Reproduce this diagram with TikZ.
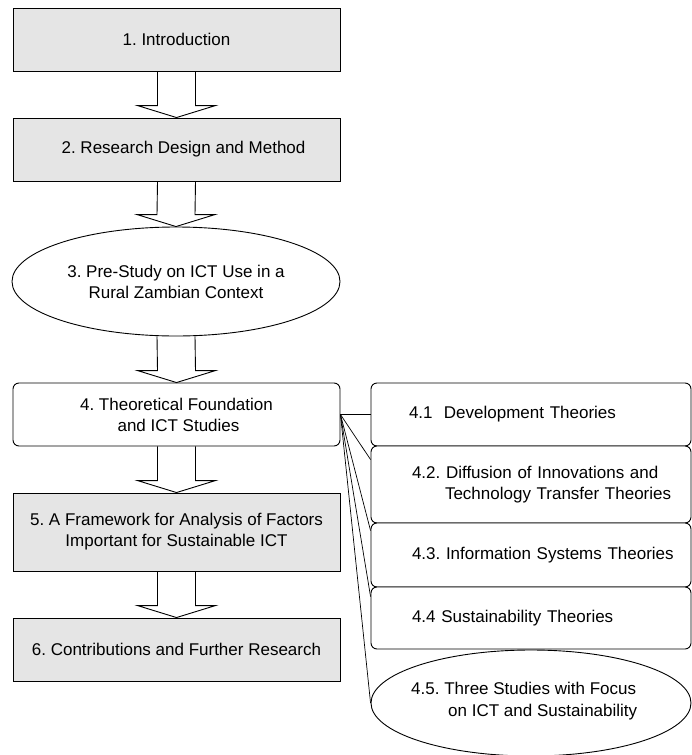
\documentclass[tikz,border=0pt]{standalone}
\usepackage{fontspec}
\setmainfont{Liberation Sans}
\usetikzlibrary{shapes.geometric,calc}
\frenchspacing
\tikzset{
  base/.style={draw=black, line width=0.9pt, inner sep=0pt, font=\fontsize{17}{21}\selectfont\frenchspacing, align=center},
  graybox/.style={base, rectangle, fill=black!10, minimum width=327pt},
  whitebox/.style={base, rectangle, rounded corners=6pt, fill=white, minimum width=327pt},
  oval/.style={base, ellipse, fill=white},
  sidebox/.style={base, rectangle, rounded corners=6pt, fill=white, minimum width=320pt, text width=320pt, align=left},
  txt/.style={inner sep=0pt, font=\fontsize{17}{22}\selectfont\frenchspacing, align=left},
  blk/.style={draw=black, line width=0.9pt, line join=miter},
  link/.style={draw=black, line width=0.7pt}
}
\newcommand\blockarr[2]{%
  \draw[blk] ($(#1.south)+(-19,0)$) -- ($(#2.north)+(-19,-12)$) -- ($(#2.north)+(-39,-12)$) -- (#2.north)
    -- ($(#2.north)+(39,-12)$) -- ($(#2.north)+(19,-12)$) -- ($(#1.south)+(19,0)$);}
\begin{document}
\begin{tikzpicture}[x=1pt, y=-1pt]
\useasboundingbox (0,0) rectangle (692,755);

% main column
\node[graybox, minimum height=63pt] (b1) at (176.5,39.5) {1. Introduction};
\node[graybox, minimum height=63pt] (b2) at (176.5,149.5) {\hspace*{14pt}2. Research Design and Method};
\node[oval, minimum width=328pt, minimum height=109pt] (e3) at (176,281.5) {3. Pre-Study on ICT Use in a\\Rural Zambian Context};
\node[whitebox, minimum height=63pt] (b4) at (176.5,414.5) {4. Theoretical Foundation\\\hspace*{4pt}and ICT Studies};
\node[graybox, minimum height=78pt] (b5) at (176.5,532) {5. A Framework for Analysis of Factors\\Important for Sustainable ICT};
\node[graybox, minimum height=63pt] (b6) at (176.5,649.5) {6. Contributions and Further Research};

\blockarr{b1}{b2}
\blockarr{b2}{e3}
\blockarr{e3}{b4}
\blockarr{b4}{b5}
\blockarr{b5}{b6}

% side column
\node[sidebox, minimum height=63pt] (b41) at (531,414.5) {\hspace*{38pt}\raisebox{4pt}{4.1\ \ Development Theories}};
\node[sidebox, minimum height=77pt] (b42) at (531,484.5) {\hspace*{41pt}4.2. Diffusion of Innovations and\\\hspace*{74pt}Technology Transfer Theories};
\node[sidebox, minimum height=64pt] (b43) at (531,555) {\hspace*{41pt}4.3. Information Systems Theories};
\node[sidebox, minimum height=62pt] (b44) at (531,618) {\hspace*{41pt}4.4 Sustainability Theories};
\node[oval, minimum width=320pt, minimum height=106pt] (b45) at (531,703) {};
\node[txt, anchor=west] (t45) at (411,701.5) {4.5. Three Studies with Focus\\\hspace*{37pt}on ICT and Sustainability};

% fan of links
\draw[link] (b4.east) -- (b41.west);
\draw[link] (b4.east) -- ($(b42.north west)+(0,14)$);
\draw[link] (b4.east) -- ($(b43.north west)+(0,8)$);
\draw[link] (b4.east) -- ($(b44.north west)+(0,10)$);
\draw[link] (b4.east) -- (b45.west);
\end{tikzpicture}
\end{document}
